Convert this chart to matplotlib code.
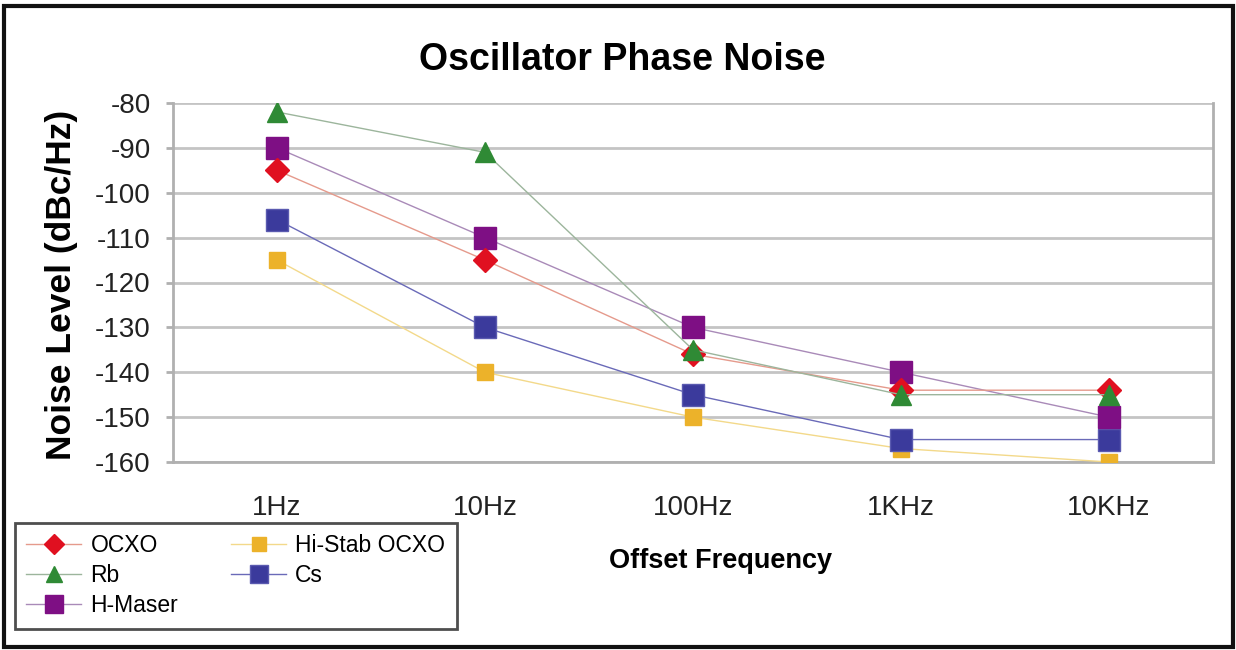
import matplotlib
matplotlib.use('Agg')
import matplotlib.pyplot as plt
from matplotlib.patches import Rectangle

plt.rcParams['font.family'] = ['Liberation Sans', 'DejaVu Sans']
plt.rcParams['axes.unicode_minus'] = False

# Phase noise per oscillator type, dBc/Hz at each offset
offsets = ['1Hz', '10Hz', '100Hz', '1KHz', '10KHz']
ocxo = [-95, -115, -136, -144, -144]
hi_stab_ocxo = [-115, -140, -150, -157, -160]
rb = [-82, -91, -135, -145, -145]
cs = [-106, -130, -145, -155, -155]
h_maser = [-90, -110, -130, -140, -150]

W, H = 1236, 650
fig = plt.figure(figsize=(W / 100, H / 100), dpi=100)
ax = fig.add_axes([173 / W, (H - 462) / H, 1040 / W, 359 / H])

x = list(range(len(offsets)))

# draw order: back to front
h_hs, = ax.plot(x, hi_stab_ocxo, color='#f3d98a', lw=1.0, marker='s', ms=12,
                mfc='#ecb22a', mec='#ecb22a', label='Hi-Stab OCXO', zorder=3)
h_cs, = ax.plot(x, cs, color='#6a6ab8', lw=1.0, marker='s', ms=16,
                mfc='#3b3a9c', mec='#5a5ab0', label='Cs', zorder=4)
h_hm, = ax.plot(x, h_maser, color='#a98ab8', lw=1.0, marker='s', ms=16,
                mfc='#7e0f84', mec='#7e0f84', label='H-Maser', zorder=5)
h_oc, = ax.plot(x, ocxo, color='#e59a8c', lw=1.0, marker='D', ms=12,
                mfc='#e01020', mec='#e01020', label='OCXO', zorder=6)
h_rb, = ax.plot(x, rb, color='#9cb59c', lw=1.0, marker='^', ms=14,
                mfc='#2f8a35', mec='#2f8a35', label='Rb', zorder=7)

ax.set_xlim(-0.5, len(offsets) - 0.5)
ax.set_ylim(-160, -80)
ax.set_yticks(range(-160, -79, 10))
ax.set_xticks(x)
ax.set_xticklabels(offsets)
ax.tick_params(axis='both', labelsize=20, labelcolor='#222222')
ax.tick_params(axis='x', length=0, pad=24)
ax.tick_params(axis='y', length=5, width=2, color='#b0b0b0', pad=11)
ax.grid(axis='y', color='#c4c4c4', lw=2)
ax.set_axisbelow(True)
for s in ax.spines.values():
    s.set_color('#b0b0b0')
    s.set_linewidth(2)
ax.spines['top'].set_visible(False)

ax.set_ylabel('Noise Level (dBc/Hz)', fontsize=25.5, fontweight='bold')
ax.yaxis.set_label_coords(-0.091, 0.493)
fig.text(622 / W, 1 - 60 / H, 'Oscillator Phase Noise', ha='center', va='center',
         fontsize=27, fontweight='bold')
fig.text(721 / W, 1 - 561 / H, 'Offset Frequency', ha='center', va='center',
         fontsize=19.5, fontweight='bold')

leg = fig.legend(handles=[h_oc, h_rb, h_hm, h_hs, h_cs], ncol=2,
                 loc='upper left', bbox_to_anchor=(15 / W, 1 - 523 / H),
                 fontsize=16.5, frameon=True, fancybox=False, borderpad=0.5,
                 labelspacing=0.3, handlelength=2.4, handletextpad=0.4,
                 columnspacing=2.3, borderaxespad=0, markerscale=0.85)
leg.get_frame().set_edgecolor('#222222')
leg.get_frame().set_linewidth(2)

# outer frame around the whole chart
fig.add_artist(Rectangle((4 / W, 3 / H), 1229 / W, 641 / H, transform=fig.transFigure,
                         fill=False, edgecolor='#111111', lw=3))

fig.savefig('out.png', dpi=100)
